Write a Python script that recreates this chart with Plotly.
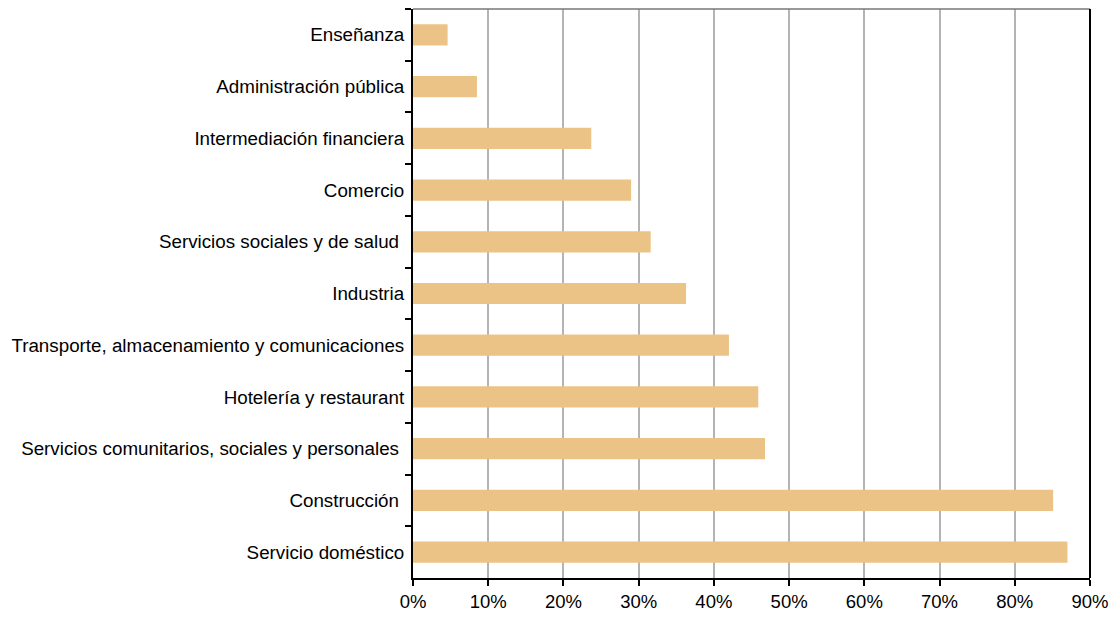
import plotly.graph_objects as go

# categories listed top to bottom as in the source chart
sectores = [
    "Enseñanza",
    "Administración pública",
    "Intermediación financiera",
    "Comercio",
    "Servicios sociales y de salud\u00a0",
    "Industria",
    "Transporte, almacenamiento y comunicaciones",
    "Hotelería y restaurant",
    "Servicios comunitarios, sociales y personales\u00a0",
    "Construcción\u00a0",
    "Servicio doméstico",
]
porcentaje = [4.6, 8.5, 23.7, 29.0, 31.6, 36.3, 42.0, 45.9, 46.8, 85.1, 87.0]

x_ticks = list(range(0, 100, 10))
x_labels = [f"{t}%" for t in x_ticks]

fig = go.Figure()
fig.add_trace(go.Bar(
    x=porcentaje, y=sectores, orientation="h",
    marker=dict(color="#ECC387", line=dict(width=0)),
))

fig.update_layout(
    width=1111, height=617,
    margin=dict(l=413, r=21, t=9, b=39),
    paper_bgcolor="white", plot_bgcolor="white",
    font=dict(family="Liberation Sans, Arial, sans-serif", size=19, color="black"),
    bargap=0.59,
    showlegend=False,
)
fig.update_xaxes(
    range=[0, 90], tickvals=x_ticks, ticktext=x_labels,
    tickfont=dict(size=18.5),
    showgrid=True, gridcolor="#B4B4B4", gridwidth=1.5,
    showline=True, linecolor="black", linewidth=2,
    ticks="outside", ticklen=6, tickwidth=2, tickcolor="black",
    zeroline=False, automargin=False,
)
fig.update_yaxes(
    autorange="reversed", type="category",
    tickfont=dict(size=18.8), ticklabelstandoff=3,
    showline=True, linecolor="black", linewidth=2,
    ticks="outside", ticklen=6, tickwidth=2, tickcolor="black",
    tickson="boundaries", showgrid=False, automargin=False,
)
# top and right frame lines
fig.add_shape(type="line", xref="paper", yref="paper", x0=0, x1=1, y0=1, y1=1,
              line=dict(color="#777777", width=1.5))
fig.add_shape(type="line", xref="paper", yref="paper", x0=1, x1=1, y0=0, y1=1,
              line=dict(color="black", width=2))

# drop the default page margin so the figure fills the window exactly
fig.write_html("out.html", config={"displayModeBar": False},
               post_script="document.body.style.margin='0';")
